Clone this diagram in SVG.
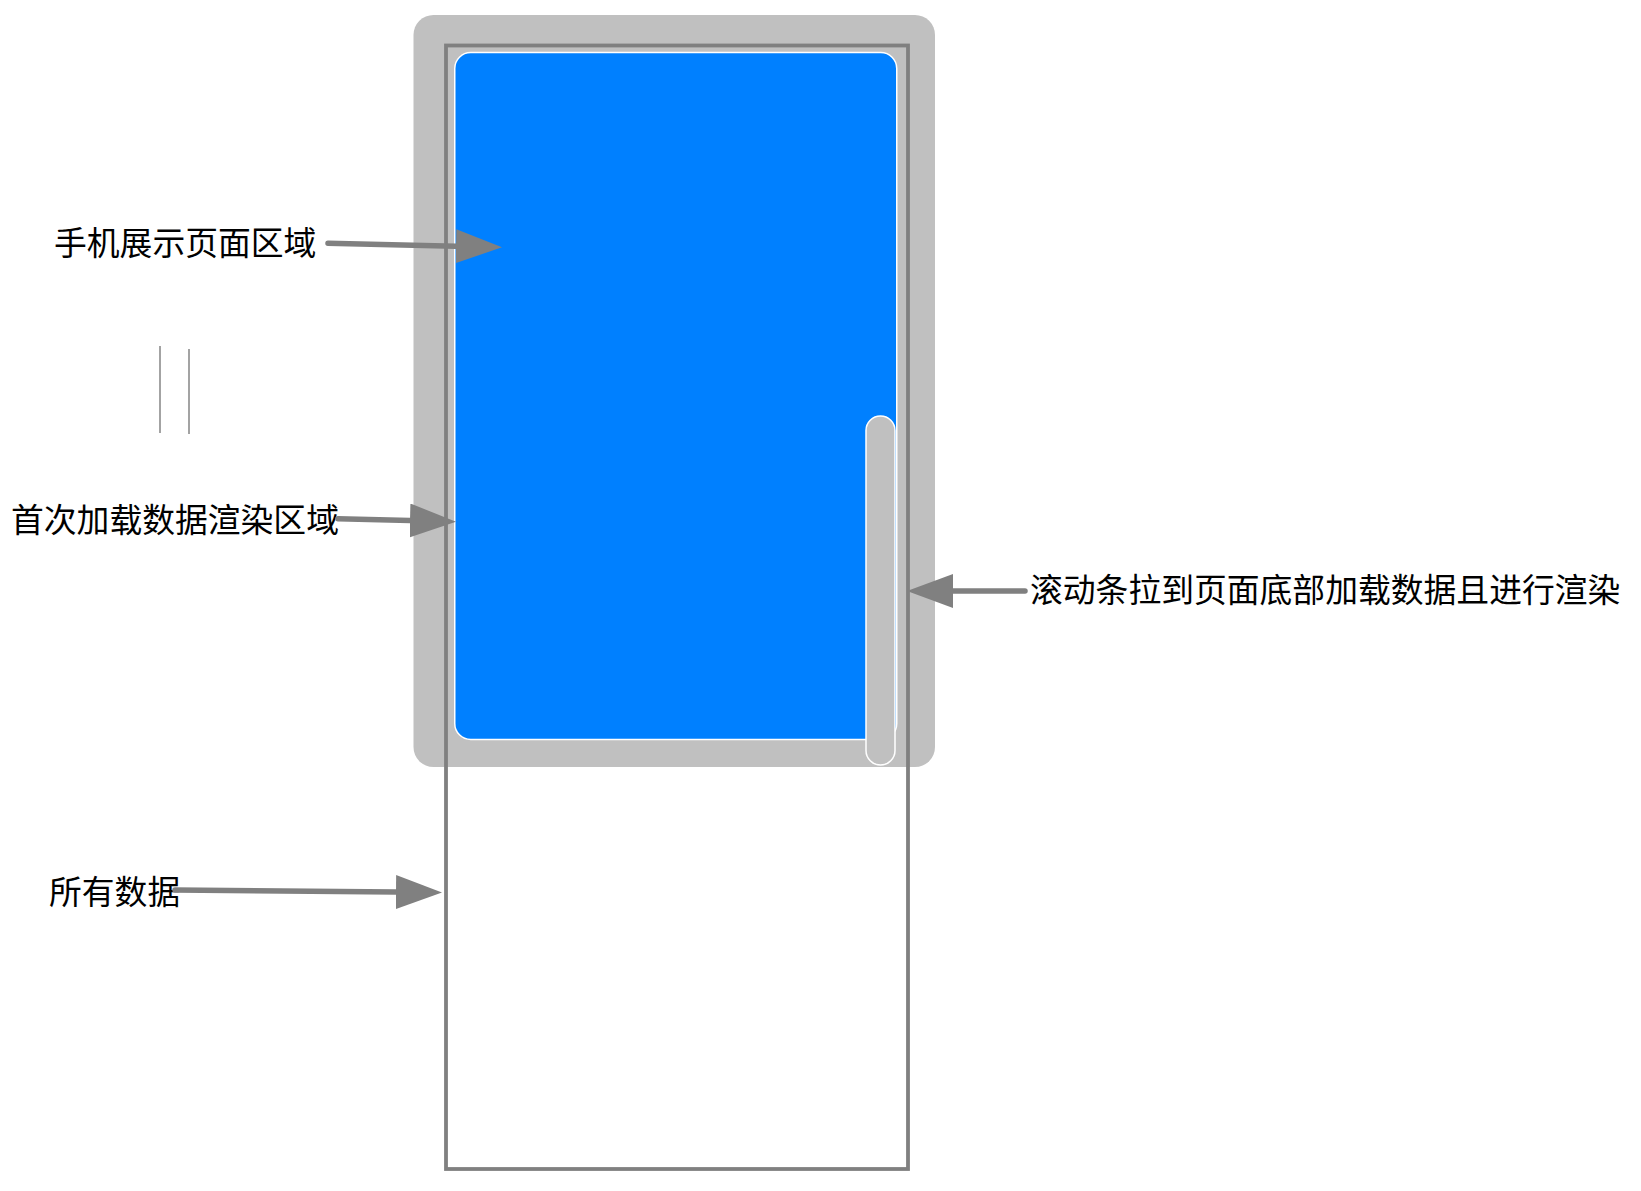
<svg xmlns="http://www.w3.org/2000/svg" width="1641" height="1191" viewBox="0 0 1641 1191">
<style>
.lbl{font-family:"Noto Sans CJK SC","Noto Sans",sans-serif;font-size:32.8px;fill:#000}
.arr{stroke:#808080;stroke-width:5.5;fill:none;stroke-linecap:round}
.tick{stroke:#8c8c8c;stroke-width:1.6}
</style>
<defs>
<marker id="ah" markerUnits="userSpaceOnUse" markerWidth="46" markerHeight="34" refX="0" refY="17" orient="auto" viewBox="0 0 46 34">
<path d="M0,0 L46,17 L0,34 Z" fill="#808080"/>
</marker>
</defs>
<rect width="1641" height="1191" fill="#fff"/>
<g id="phone">
<rect x="413.5" y="15" width="521.5" height="752" rx="20" fill="#c0c0c0"/>
</g>
<g id="all-data">
<rect x="446" y="45.5" width="462" height="1123.5" fill="none" stroke="#808080" stroke-width="3.8"/>
</g>
<g id="screen">
<rect x="454.75" y="52.5" width="442" height="687" rx="16" fill="#0080ff" stroke="#fff" stroke-width="1.5"/>
</g>
<g id="scrollbar">
<rect x="866" y="416" width="29" height="349" rx="14.5" fill="#c0c0c0" stroke="#fff" stroke-width="1.5"/>
</g>
<g id="ellipsis">
<line class="tick" x1="160" y1="346" x2="160" y2="433"/>
<line class="tick" x1="189" y1="349" x2="189" y2="434"/>
</g>
<g id="label-screen"><text class="lbl" x="54" y="255">手机展示页面区域</text></g>
<g id="label-first"><text class="lbl" x="11" y="531.5">首次加载数据渲染区域</text></g>
<g id="label-scroll"><text class="lbl" x="1030" y="601.5">滚动条拉到页面底部加载数据且进行渲染</text></g>
<g id="label-all"><text class="lbl" x="49" y="904">所有数据</text></g>
<g id="connectors">
<line class="arr" x1="328" y1="243.3" x2="456" y2="246.2" marker-end="url(#ah)"/>
<line class="arr" x1="338" y1="518.7" x2="410" y2="520.5" marker-end="url(#ah)"/>
<line class="arr" x1="1025" y1="591" x2="953" y2="591" marker-end="url(#ah)"/>
<line class="arr" x1="175" y1="890" x2="396" y2="892" marker-end="url(#ah)"/>
</g>
</svg>
